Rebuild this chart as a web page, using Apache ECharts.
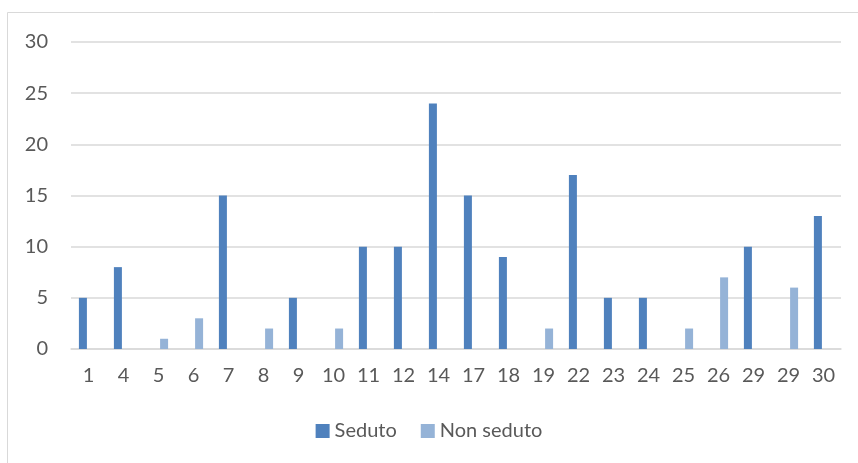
<!DOCTYPE html>
<html>
<head>
<meta charset="utf-8">
<script src="https://cdn.jsdelivr.net/npm/echarts@6/dist/echarts.min.js"></script>
<style>
    html, body { margin: 0; padding: 0; background: #fff; }
    #chart { width: 858px; height: 463px; }
</style>
</head>
<body>
<div id="chart"></div>
<script>
let categories = ['1', '4', '5', '6', '7', '8', '9', '10', '11', '12', '14', '17', '18', '19', '22', '23', '24', '25', '26', '29', '29', '30'];
let seduto = [5, 8, null, null, 15, null, 5, null, 10, 10, 24, 15, 9, null, 17, 5, 5, null, null, 10, null, 13];
let nonSeduto = [null, null, 1, 3, null, 2, null, 2, null, null, null, null, null, 2, null, null, null, 2, 7, null, 6, null];

let textColor = '#595959';
let fontName = 'Lato';

var dom = document.getElementById('chart');
var myChart = echarts.init(dom, null, { renderer: 'canvas' });

var option = {
    backgroundColor: '#ffffff',
    animation: false,
    textStyle: { fontFamily: fontName },
    // outer chart border (cropped at right/bottom like the picture)
    graphic: [{
        type: 'rect',
        shape: { x: 7.5, y: 12.5, width: 870, height: 470 },
        style: { fill: 'none', stroke: '#d9d9d9', lineWidth: 1 },
        silent: true
    }],
    grid: { left: 71, right: 17, top: 42, bottom: 114 },
    legend: {
        bottom: 17,
        left: 'center',
        itemWidth: 14,
        itemHeight: 14,
        itemGap: 24,
        icon: 'rect',
        textStyle: { color: textColor, fontSize: 20, fontFamily: fontName },
        data: ['Seduto', 'Non seduto']
    },
    xAxis: {
        type: 'category',
        data: categories,
        axisLine: { lineStyle: { color: '#d9d9d9', width: 1.5 } },
        axisTick: { show: false },
        axisLabel: { color: textColor, fontSize: 20, margin: 17, interval: 0 }
    },
    yAxis: {
        type: 'value',
        min: 0,
        max: 30,
        interval: 5,
        axisLine: { show: false },
        axisTick: { show: false },
        axisLabel: { color: textColor, fontSize: 20, margin: 23 },
        splitLine: { lineStyle: { color: '#d9d9d9', width: 1.5 } }
    },
    series: [
        {
            name: 'Seduto',
            type: 'bar',
            data: seduto,
            barWidth: 8,
            barGap: '40%',
            itemStyle: { color: '#4f81bd' }
        },
        {
            name: 'Non seduto',
            type: 'bar',
            data: nonSeduto,
            barWidth: 8,
            itemStyle: { color: '#95b3d7' }
        }
    ]
};

myChart.setOption(option);
window.addEventListener('resize', myChart.resize);
</script>
</body>
</html>
